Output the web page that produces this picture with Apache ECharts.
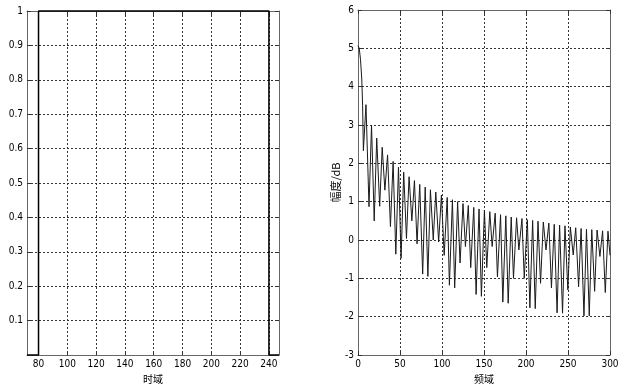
<!DOCTYPE html>
<html><head><meta charset="utf-8">
<script src="https://cdn.jsdelivr.net/npm/echarts@6/dist/echarts.min.js"></script>
<style>html,body{margin:0;padding:0;background:#fff}#c{width:625px;height:389px}</style>
</head><body><div id="c"></div>
<script>
// ---- time domain (left) ----
const timeX = [72, 80, 80, 240, 240, 247];
const timeY = [0, 0, 1, 1, 0, 0];
const timeTicksX = [80, 100, 120, 140, 160, 180, 200, 220, 240];
const timeTicksY = [0.1, 0.2, 0.3, 0.4, 0.5, 0.6, 0.7, 0.8, 0.9, 1];
// ---- frequency domain (right) ----
const freqK = [0,1.5,3,4.5,5.5,6.4,9.5,13.1,16.1,19.3,22.3,25.8,28.8,32,35.2,38.6,41.8,45,48.2,51.3,54.4,57.7,60.8,64.1,67.2,70.3,73.5,77,80,83.2,86.2,89.6,92.6,96,99.3,102.6,106.2,108.8,112.4,115.1,118.6,121.5,125,127.9,131.3,134.2,137.8,140.6,144.1,146.9,150.5,153.3,156.9,159.7,163.3,166,169.7,172.4,176,178.8,182.4,185.1,188.8,191.5,195.2,197.9,201.6,204.6,207.9,211,214.3,217.3,220.6,223.8,227.2,230.3,233.6,237,240,243.5,246.4,249.8,252.8,256.2,259.2,262.6,265.6,269,272,275.3,278.3,281.7,284.6,288,291.2,294.4,297.6,300];
const freqV = [5.07,5.0,4.7,4.2,3.5,2.33,3.53,0.87,3.0,0.5,2.66,0.88,2.42,1.3,2.22,0.35,2.05,-0.37,1.9,-0.48,1.77,0.04,1.65,0.5,1.55,-0.1,1.45,-0.89,1.38,-0.95,1.31,0.0,1.25,-0.05,1.17,-0.4,1.11,-1.18,1.05,-1.25,1.0,-0.6,0.95,-0.17,0.9,-0.72,0.85,-1.42,0.81,-1.47,0.78,-0.72,0.74,-0.17,0.7,-0.96,0.66,-1.62,0.63,-1.65,0.6,-1.0,0.58,-0.26,0.56,-1.0,0.53,-1.77,0.51,-1.79,0.49,-1.13,0.47,-0.26,0.44,-1.25,0.41,-1.9,0.39,-1.91,0.37,-1.3,0.34,-0.39,0.32,-1.22,0.3,-1.98,0.28,-1.98,0.27,-1.34,0.26,-0.43,0.24,-1.37,0.23,-0.4];
const freqTicksX = [0, 50, 100, 150, 200, 250, 300];
const freqTicksY = [-3, -2, -1, 0, 1, 2, 3, 4, 5, 6];

const FONT = "'Liberation Sans Narrow','DejaVu Sans Condensed','Liberation Sans',sans-serif";
const CJK = "'Noto Sans CJK SC',sans-serif";
const gridLine = { show: true, lineStyle: { color: '#333', type: [2, 2], width: 1 } };
const axLine = { show: true, onZero: false, lineStyle: { color: '#666', width: 1 } };
const lab = { color: '#000', fontSize: 10, fontFamily: FONT, margin: 4 };
const tick = { show: true, inside: true, length: 4, lineStyle: { color: '#333' } };

function mirrorX(grid, min, max, ticks) {
  return { type: 'value', gridIndex: grid, position: 'top', min, max,
    axisLine: axLine, axisTick: Object.assign({ customValues: ticks }, tick),
    axisLabel: { show: false, customValues: ticks }, splitLine: { show: false } };
}
function mirrorY(grid, min, max, ticks) {
  return { type: 'value', gridIndex: grid, position: 'right', min, max,
    axisLine: axLine, axisTick: Object.assign({ customValues: ticks }, tick),
    axisLabel: { show: false, customValues: ticks }, splitLine: { show: false } };
}

const option = {
  animation: false,
  backgroundColor: '#fff',
  grid: [
    { left: 27, top: 11, width: 252, height: 344 },
    { left: 358, top: 10, width: 252, height: 345 }
  ],
  xAxis: [
    { type: 'value', gridIndex: 0, min: 72, max: 247,
      name: '时域', nameLocation: 'middle', nameGap: 15,
      nameTextStyle: { color: '#000', fontSize: 10, fontFamily: CJK },
      axisLine: axLine, axisTick: Object.assign({ customValues: timeTicksX }, tick),
      axisLabel: Object.assign({ customValues: timeTicksX }, lab), splitLine: gridLine },
    { type: 'value', gridIndex: 1, min: 0, max: 300,
      name: '频域', nameLocation: 'middle', nameGap: 15,
      nameTextStyle: { color: '#000', fontSize: 10, fontFamily: CJK },
      axisLine: axLine, axisTick: Object.assign({ customValues: freqTicksX }, tick),
      axisLabel: Object.assign({ customValues: freqTicksX }, lab), splitLine: gridLine },
    mirrorX(0, 72, 247, timeTicksX),
    mirrorX(1, 0, 300, freqTicksX)
  ],
  yAxis: [
    { type: 'value', gridIndex: 0, min: 0, max: 1,
      axisLine: axLine, axisTick: Object.assign({ customValues: timeTicksY }, tick),
      axisLabel: Object.assign({ customValues: timeTicksY, formatter: v => String(Math.round(v * 10) / 10) }, lab),
      splitLine: gridLine },
    { type: 'value', gridIndex: 1, min: -3, max: 6,
      name: '幅度/dB', nameLocation: 'middle', nameGap: 12, nameRotate: 90,
      nameTextStyle: { color: '#000', fontSize: 11, fontFamily: CJK },
      axisLine: axLine, axisTick: Object.assign({ customValues: freqTicksY }, tick),
      axisLabel: Object.assign({ customValues: freqTicksY }, lab), splitLine: gridLine },
    mirrorY(0, 0, 1, timeTicksY),
    mirrorY(1, -3, 6, freqTicksY)
  ],
  series: [
    { type: 'line', xAxisIndex: 0, yAxisIndex: 0, symbol: 'none', clip: false,
      lineStyle: { color: '#000', width: 1.5 },
      data: timeX.map((x, i) => [x, timeY[i]]) },
    { type: 'line', xAxisIndex: 1, yAxisIndex: 1, symbol: 'none',
      lineStyle: { color: '#1a1a1a', width: 1 },
      data: freqK.map((k, i) => [k, freqV[i]]) }
  ]
};
echarts.init(document.getElementById('c'), null, { renderer: 'canvas' }).setOption(option);
</script>
</body></html>
